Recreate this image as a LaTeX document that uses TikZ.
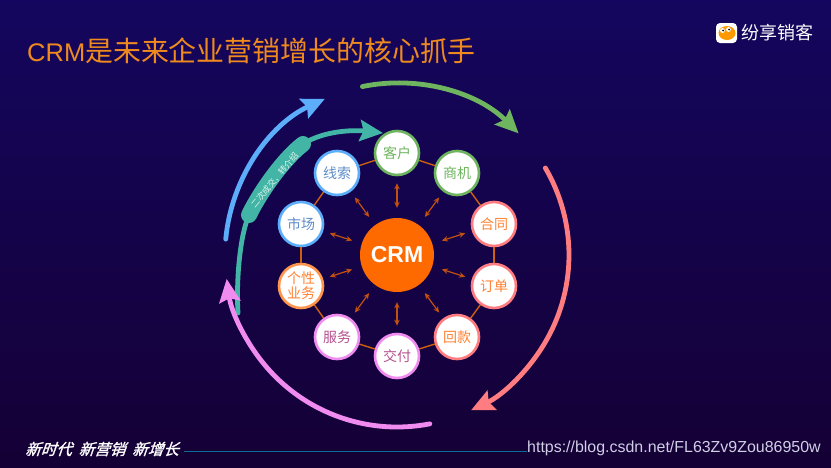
\documentclass[tikz,border=0pt]{standalone}
\usepackage{fontspec}
\setmainfont{Noto Sans CJK SC}
\newfontfamily\arialf{Liberation Sans}
\newfontfamily\slantf[FakeSlant=0.35,FakeBold=1.5]{Noto Sans CJK SC}
\usetikzlibrary{arrows.meta,calc}
\definecolor{cgreen}{HTML}{6FB45F}
\definecolor{csalmon}{HTML}{FF7C80}
\definecolor{cpink}{HTML}{F08CF0}
\definecolor{cblue}{HTML}{5CAEFA}
\definecolor{cteal}{HTML}{43B5A6}
\definecolor{corange}{HTML}{FF6A00}
\definecolor{clink}{HTML}{D0600C}
\definecolor{cspoke}{HTML}{C2500F}
\definecolor{bggtop}{HTML}{14065E}
\definecolor{bggbot}{HTML}{150035}
\definecolor{ctitle}{HTML}{EE8A1E}
\definecolor{ttext}{HTML}{FF8232}
\definecolor{ptext}{HTML}{B8508F}
\definecolor{btext}{HTML}{5E8CC8}
\definecolor{cline}{HTML}{0A6B96}
\definecolor{cmark}{HTML}{CFCFE6}
\tikzset{
  bigarc/.style={line width=4.8pt,line cap=round,draw=#1,-{Stealth[length=23pt,width=21pt,inset=3.5pt]}},
  item/.style={circle,fill=white,minimum size=44pt,inner sep=0pt,line width=2.6pt,font=\fontsize{14}{16}\selectfont,align=center},
  ringlink/.style={draw=clink,line width=1.4pt},
  spoke/.style={draw=cspoke,line width=1.2pt,{Stealth[length=6pt,width=5.5pt]}-{Stealth[length=6pt,width=5.5pt]},shorten >=7pt,shorten <=10pt},
}
\begin{document}
\begin{tikzpicture}[x=1pt,y=-1pt]
\useasboundingbox (0,0) rectangle (831,467);
\shade[top color=bggtop,bottom color=bggbot] (0,0) rectangle (831,467);
\coordinate (c) at (397,255);
% title and logo
\node[anchor=west,inner sep=0pt,text=ctitle,font=\fontsize{27.9}{30}\selectfont] (title) at (27,51) {{\arialf\fontsize{25.5}{30}\selectfont CRM}是未来企业营销增长的核心抓手};
\draw[fill=white,rounded corners=4pt,draw=none] (716,23) rectangle (737,43);
\fill[orange!80!yellow] (727,33) ellipse (8.5pt and 7pt);
\fill[white] (722.5,30.5) circle (2.4pt) (728.5,29.5) circle (2.4pt);
\fill[black] (723,30.5) circle (1pt) (729,29.5) circle (1pt);
\node[anchor=west,inner sep=0pt,text=white,font=\fontsize{18}{20}\selectfont] (logo) at (741,33) {纷享销客};
% big arcs
\draw[bigarc=cteal]
  (238,313) .. controls (236,280) and (240,235) .. (249,215)
  .. controls (257,198) and (280,162) .. (303,144)
  .. controls (325,130) and (355,130) .. (383,133);
\draw[line width=16pt,line cap=round,draw=cteal]
  (249,215) .. controls (257,198) and (280,162) .. (303,144);
\node[text=white!85!cteal,rotate=50,inner sep=0pt,font=\fontsize{8.5}{10}\selectfont] (tag) at (274.5,180) {二次成交，转介绍};
\draw[bigarc=cblue] (c) ++(-174.7:172) arc[start angle=-174.7,end angle=-114.8,radius=172];
\draw[bigarc=cgreen] (c) ++(-101.6:172) arc[start angle=-101.6,end angle=-45,radius=172];
\draw[bigarc=csalmon] (c) ++(-30.4:172) arc[start angle=-30.4,end angle=64.5,radius=172];
\draw[bigarc=cpink] (c) ++(79:172) arc[start angle=79,end angle=172,radius=172];
% center
\node[circle,fill=corange,minimum size=74pt,inner sep=0pt,text=white,font=\arialf\bfseries\fontsize{23}{26}\selectfont] (crm) at (c) {CRM};
% ring
\node[item,draw=cgreen,text=cgreen] (n1) at (397,153) {客户};
\node[item,draw=cgreen,text=cgreen] (n2) at (457,173) {商机};
\node[item,draw=csalmon,text=ttext] (n3) at (494,224) {合同};
\node[item,draw=csalmon,text=ttext] (n4) at (494,286) {订单};
\node[item,draw=csalmon,text=ttext] (n5) at (457,337) {回款};
\node[item,draw=cpink,text=ptext] (n6) at (397,356) {交付};
\node[item,draw=cpink,text=ptext] (n7) at (337,337) {服务};
\node[item,draw=orange!80!red!70,text=ttext] (n8) at (301,286) {个性\\[-1pt]业务};
\node[item,draw=cblue,text=btext] (n9) at (301,224) {市场};
\node[item,draw=cblue,text=btext] (n10) at (337,173) {线索};
\foreach \a/\b in {n1/n2,n2/n3,n3/n4,n4/n5,n5/n6,n6/n7,n7/n8,n8/n9,n9/n10,n10/n1}
  \draw[ringlink] (\a) -- (\b);
\foreach \a in {n1,n2,n3,n4,n5,n6,n7,n8,n9,n10}
  \draw[spoke] (crm) -- (\a);
% footer
\node[anchor=west,inner sep=0pt,text=white,font=\slantf\fontsize{15.5}{17}\selectfont] (foot) at (25,449) {新时代\hspace{.45em}新营销\hspace{.45em}新增长};
\coordinate (lineA) at (184,451);
\coordinate (lineB) at (527,451);
\draw[line width=.9pt,draw=cline] (lineA) -- (lineB);
\node[anchor=west,inner sep=0pt,text=cmark,font=\arialf\fontsize{15.95}{18}\selectfont] (mark) at (527,448) {https://blog.csdn.net/FL63Zv9Zou86950w};
\end{tikzpicture}
\end{document}
